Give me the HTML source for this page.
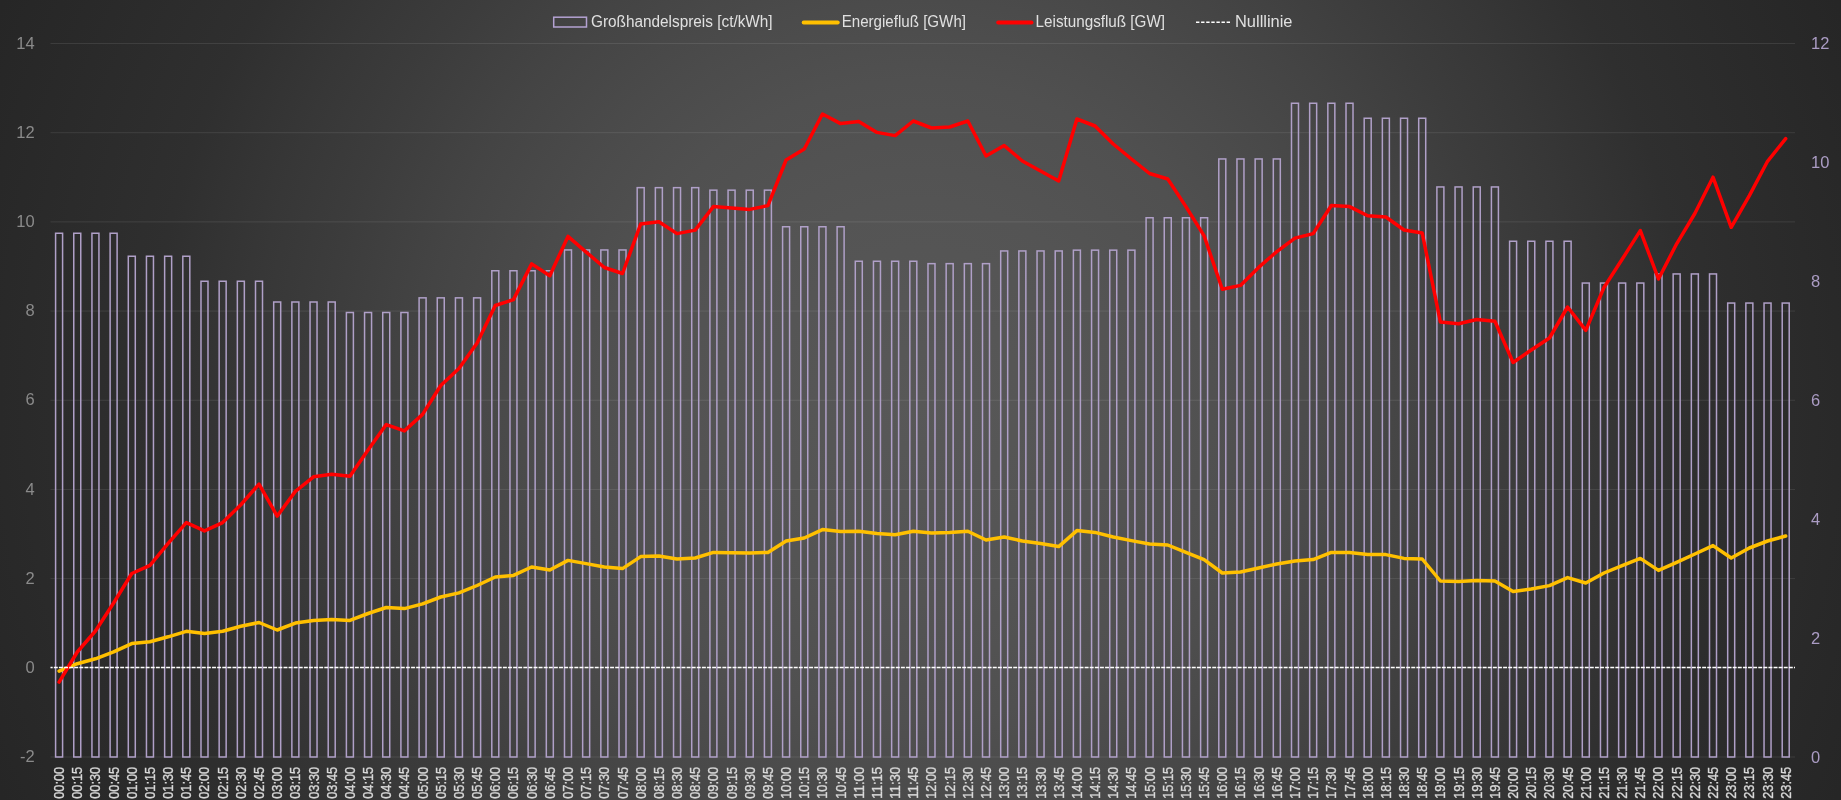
<!DOCTYPE html>
<html><head><meta charset="utf-8"><title>Chart</title>
<style>
html,body{margin:0;padding:0;background:#2a2a2a;}
body{width:1841px;height:800px;overflow:hidden;}
svg{display:block;will-change:transform;}
text{font-family:"Liberation Sans",sans-serif;}
</style></head><body>
<svg width="1841" height="800" viewBox="0 0 1841 800">
<defs>
<radialGradient id="bg" gradientUnits="userSpaceOnUse" cx="920" cy="400" r="1000">
<stop offset="0" stop-color="rgb(88,88,88)"/>
<stop offset="0.2" stop-color="rgb(84,84,84)"/>
<stop offset="0.32" stop-color="rgb(80,80,80)"/>
<stop offset="0.40" stop-color="rgb(75,75,75)"/>
<stop offset="0.50" stop-color="rgb(68,68,68)"/>
<stop offset="0.60" stop-color="rgb(60,60,60)"/>
<stop offset="0.67" stop-color="rgb(55,55,55)"/>
<stop offset="0.77" stop-color="rgb(47,47,47)"/>
<stop offset="0.92" stop-color="rgb(41,41,41)"/>
<stop offset="1" stop-color="rgb(38,38,38)"/>
</radialGradient>
</defs>
<rect x="0" y="0" width="1841" height="800" fill="url(#bg)"/>
<g stroke="#ffffff" stroke-opacity="0.095" stroke-width="1"><line x1="50.5" y1="43.50" x2="1795.0" y2="43.50"/><line x1="50.5" y1="132.69" x2="1795.0" y2="132.69"/><line x1="50.5" y1="221.88" x2="1795.0" y2="221.88"/><line x1="50.5" y1="311.06" x2="1795.0" y2="311.06"/><line x1="50.5" y1="400.25" x2="1795.0" y2="400.25"/><line x1="50.5" y1="489.44" x2="1795.0" y2="489.44"/><line x1="50.5" y1="578.62" x2="1795.0" y2="578.62"/><line x1="50.5" y1="667.81" x2="1795.0" y2="667.81"/><line x1="50.5" y1="757.00" x2="1795.0" y2="757.00"/></g>
<g fill="#8a8a8a" font-size="16.5" text-anchor="end"><text x="34.6" y="48.6">14</text><text x="34.6" y="137.8">12</text><text x="34.6" y="227.0">10</text><text x="34.6" y="316.2">8</text><text x="34.6" y="405.4">6</text><text x="34.6" y="494.5">4</text><text x="34.6" y="583.7">2</text><text x="34.6" y="672.9">0</text><text x="34.6" y="762.1">-2</text></g>
<g fill="#ab9cc4" font-size="16.5"><text x="1811" y="49.3">12</text><text x="1811" y="168.2">10</text><text x="1811" y="287.1">8</text><text x="1811" y="406.1">6</text><text x="1811" y="525.0">4</text><text x="1811" y="643.9">2</text><text x="1811" y="762.8">0</text></g>
<g fill="none" stroke="#b0a0c8" stroke-width="1.5"><rect x="55.59" y="233.25" width="7.0" height="523.75"/><rect x="73.76" y="233.25" width="7.0" height="523.75"/><rect x="91.94" y="233.25" width="7.0" height="523.75"/><rect x="110.11" y="233.25" width="7.0" height="523.75"/><rect x="128.29" y="256.25" width="7.0" height="500.75"/><rect x="146.46" y="256.25" width="7.0" height="500.75"/><rect x="164.64" y="256.25" width="7.0" height="500.75"/><rect x="182.81" y="256.25" width="7.0" height="500.75"/><rect x="200.99" y="281.25" width="7.0" height="475.75"/><rect x="219.16" y="281.25" width="7.0" height="475.75"/><rect x="237.34" y="281.25" width="7.0" height="475.75"/><rect x="255.51" y="281.25" width="7.0" height="475.75"/><rect x="273.69" y="302.00" width="7.0" height="455.00"/><rect x="291.86" y="302.00" width="7.0" height="455.00"/><rect x="310.04" y="302.00" width="7.0" height="455.00"/><rect x="328.21" y="302.00" width="7.0" height="455.00"/><rect x="346.39" y="312.50" width="7.0" height="444.50"/><rect x="364.56" y="312.50" width="7.0" height="444.50"/><rect x="382.74" y="312.50" width="7.0" height="444.50"/><rect x="400.91" y="312.50" width="7.0" height="444.50"/><rect x="419.09" y="297.85" width="7.0" height="459.15"/><rect x="437.26" y="297.85" width="7.0" height="459.15"/><rect x="455.44" y="297.85" width="7.0" height="459.15"/><rect x="473.61" y="297.85" width="7.0" height="459.15"/><rect x="491.79" y="270.75" width="7.0" height="486.25"/><rect x="509.96" y="270.75" width="7.0" height="486.25"/><rect x="528.14" y="270.75" width="7.0" height="486.25"/><rect x="546.31" y="270.75" width="7.0" height="486.25"/><rect x="564.49" y="249.95" width="7.0" height="507.05"/><rect x="582.66" y="249.95" width="7.0" height="507.05"/><rect x="600.84" y="249.95" width="7.0" height="507.05"/><rect x="619.01" y="249.95" width="7.0" height="507.05"/><rect x="637.19" y="187.65" width="7.0" height="569.35"/><rect x="655.36" y="187.65" width="7.0" height="569.35"/><rect x="673.54" y="187.65" width="7.0" height="569.35"/><rect x="691.71" y="187.65" width="7.0" height="569.35"/><rect x="709.89" y="190.15" width="7.0" height="566.85"/><rect x="728.06" y="190.15" width="7.0" height="566.85"/><rect x="746.24" y="190.15" width="7.0" height="566.85"/><rect x="764.41" y="190.15" width="7.0" height="566.85"/><rect x="782.59" y="226.75" width="7.0" height="530.25"/><rect x="800.76" y="226.75" width="7.0" height="530.25"/><rect x="818.94" y="226.75" width="7.0" height="530.25"/><rect x="837.11" y="226.75" width="7.0" height="530.25"/><rect x="855.29" y="261.25" width="7.0" height="495.75"/><rect x="873.46" y="261.25" width="7.0" height="495.75"/><rect x="891.64" y="261.25" width="7.0" height="495.75"/><rect x="909.81" y="261.25" width="7.0" height="495.75"/><rect x="927.99" y="263.65" width="7.0" height="493.35"/><rect x="946.16" y="263.65" width="7.0" height="493.35"/><rect x="964.34" y="263.65" width="7.0" height="493.35"/><rect x="982.51" y="263.65" width="7.0" height="493.35"/><rect x="1000.69" y="250.95" width="7.0" height="506.05"/><rect x="1018.86" y="250.95" width="7.0" height="506.05"/><rect x="1037.04" y="250.95" width="7.0" height="506.05"/><rect x="1055.21" y="250.95" width="7.0" height="506.05"/><rect x="1073.39" y="250.15" width="7.0" height="506.85"/><rect x="1091.56" y="250.15" width="7.0" height="506.85"/><rect x="1109.74" y="250.15" width="7.0" height="506.85"/><rect x="1127.91" y="250.15" width="7.0" height="506.85"/><rect x="1146.09" y="217.75" width="7.0" height="539.25"/><rect x="1164.26" y="217.75" width="7.0" height="539.25"/><rect x="1182.44" y="217.75" width="7.0" height="539.25"/><rect x="1200.61" y="217.75" width="7.0" height="539.25"/><rect x="1218.79" y="158.95" width="7.0" height="598.05"/><rect x="1236.96" y="158.95" width="7.0" height="598.05"/><rect x="1255.14" y="158.95" width="7.0" height="598.05"/><rect x="1273.31" y="158.95" width="7.0" height="598.05"/><rect x="1291.49" y="103.25" width="7.0" height="653.75"/><rect x="1309.66" y="103.25" width="7.0" height="653.75"/><rect x="1327.84" y="103.25" width="7.0" height="653.75"/><rect x="1346.01" y="103.25" width="7.0" height="653.75"/><rect x="1364.19" y="118.25" width="7.0" height="638.75"/><rect x="1382.36" y="118.25" width="7.0" height="638.75"/><rect x="1400.54" y="118.25" width="7.0" height="638.75"/><rect x="1418.71" y="118.25" width="7.0" height="638.75"/><rect x="1436.89" y="186.95" width="7.0" height="570.05"/><rect x="1455.06" y="186.95" width="7.0" height="570.05"/><rect x="1473.24" y="186.95" width="7.0" height="570.05"/><rect x="1491.41" y="186.95" width="7.0" height="570.05"/><rect x="1509.59" y="241.25" width="7.0" height="515.75"/><rect x="1527.76" y="241.25" width="7.0" height="515.75"/><rect x="1545.94" y="241.25" width="7.0" height="515.75"/><rect x="1564.11" y="241.25" width="7.0" height="515.75"/><rect x="1582.29" y="283.05" width="7.0" height="473.95"/><rect x="1600.46" y="283.05" width="7.0" height="473.95"/><rect x="1618.64" y="283.05" width="7.0" height="473.95"/><rect x="1636.81" y="283.05" width="7.0" height="473.95"/><rect x="1654.99" y="273.95" width="7.0" height="483.05"/><rect x="1673.16" y="273.95" width="7.0" height="483.05"/><rect x="1691.34" y="273.95" width="7.0" height="483.05"/><rect x="1709.51" y="273.95" width="7.0" height="483.05"/><rect x="1727.69" y="303.05" width="7.0" height="453.95"/><rect x="1745.86" y="303.05" width="7.0" height="453.95"/><rect x="1764.04" y="303.05" width="7.0" height="453.95"/><rect x="1782.21" y="303.05" width="7.0" height="453.95"/></g>
<polyline points="59.09,671.10 77.26,663.70 95.44,658.80 113.61,651.90 131.79,643.60 149.96,641.70 168.14,636.80 186.31,631.30 204.49,633.50 222.66,631.30 240.84,626.30 259.01,622.50 277.19,630.00 295.36,623.10 313.54,620.40 331.71,619.60 349.89,620.40 368.06,613.50 386.24,607.50 404.41,608.60 422.59,603.90 440.76,597.00 458.94,592.90 477.11,585.50 495.29,577.00 513.46,575.40 531.64,567.00 549.81,570.00 567.99,560.40 586.16,563.60 604.34,567.00 622.51,568.60 640.69,556.60 658.86,556.00 677.04,559.00 695.21,558.00 713.39,552.40 731.56,552.80 749.74,553.00 767.91,552.40 786.09,541.00 804.26,538.00 822.44,529.60 840.61,531.60 858.79,531.20 876.96,533.40 895.14,534.80 913.31,531.20 931.49,533.00 949.66,532.40 967.84,531.20 986.01,540.00 1004.19,537.00 1022.36,541.00 1040.54,543.60 1058.71,546.60 1076.89,530.60 1095.06,532.40 1113.24,537.00 1131.41,540.60 1149.59,544.00 1167.76,545.00 1185.94,552.40 1204.11,559.60 1222.29,573.00 1240.46,572.00 1258.64,568.00 1276.81,564.00 1294.99,561.00 1313.16,559.60 1331.34,552.40 1349.51,552.40 1367.69,554.40 1385.86,554.60 1404.04,558.40 1422.21,559.00 1440.39,581.00 1458.56,581.60 1476.74,580.60 1494.91,581.00 1513.09,591.60 1531.26,589.00 1549.44,585.60 1567.61,577.60 1585.79,583.00 1603.96,573.00 1622.14,565.60 1640.31,558.40 1658.49,570.40 1676.66,562.40 1694.84,554.00 1713.01,545.60 1731.19,558.00 1749.36,548.00 1767.54,541.00 1785.71,536.00" fill="none" stroke="#ffc000" stroke-width="3.5" stroke-linejoin="round" stroke-linecap="round"/>
<polyline points="59.09,682.10 77.26,652.00 95.44,631.00 113.61,603.00 131.79,573.50 149.96,565.30 168.14,543.30 186.31,522.60 204.49,530.90 222.66,522.60 240.84,504.75 259.01,484.10 277.19,516.10 295.36,491.40 313.54,476.80 331.71,474.30 349.89,476.30 368.06,450.10 386.24,424.60 404.41,430.90 422.59,414.40 440.76,385.50 458.94,368.40 477.11,343.00 495.29,305.50 513.46,299.60 531.64,263.90 549.81,275.70 567.99,236.40 586.16,252.10 604.34,267.50 622.51,273.50 640.69,224.00 658.86,221.80 677.04,233.60 695.21,230.10 713.39,206.60 731.56,208.00 749.74,209.40 767.91,205.60 786.09,160.00 804.26,149.00 822.44,114.00 840.61,123.60 858.79,121.60 876.96,132.40 895.14,135.60 913.31,121.00 931.49,128.00 949.66,127.00 967.84,121.00 986.01,156.00 1004.19,145.60 1022.36,161.00 1040.54,171.00 1058.71,181.00 1076.89,119.00 1095.06,126.00 1113.24,144.00 1131.41,159.00 1149.59,173.50 1167.76,179.00 1185.94,206.60 1204.11,235.90 1222.29,289.20 1240.46,285.40 1258.64,267.40 1276.81,251.60 1294.99,238.10 1313.16,233.60 1331.34,205.50 1349.51,206.60 1367.69,215.75 1385.86,217.00 1404.04,230.00 1422.21,233.00 1440.39,322.00 1458.56,323.75 1476.74,319.50 1494.91,321.25 1513.09,362.50 1531.26,350.00 1549.44,338.00 1567.61,307.00 1585.79,330.40 1603.96,287.50 1622.14,259.30 1640.31,230.60 1658.49,279.00 1676.66,243.80 1694.84,213.50 1713.01,177.20 1731.19,227.30 1749.36,195.60 1767.54,161.30 1785.71,138.70" fill="none" stroke="#ff0000" stroke-width="3.5" stroke-linejoin="round" stroke-linecap="round"/>
<line x1="50.5" y1="667.5" x2="1795.0" y2="667.5" stroke="#ffffff" stroke-width="1.3" stroke-dasharray="3.9 1.203" stroke-dashoffset="1.743"/>
<g fill="#d9d9d9" stroke="#d9d9d9" stroke-width="0.35" font-size="14"><text transform="translate(64.09 766.8) rotate(-90)" text-anchor="end" textLength="32" lengthAdjust="spacingAndGlyphs">00:00</text><text transform="translate(82.26 766.8) rotate(-90)" text-anchor="end" textLength="32" lengthAdjust="spacingAndGlyphs">00:15</text><text transform="translate(100.44 766.8) rotate(-90)" text-anchor="end" textLength="32" lengthAdjust="spacingAndGlyphs">00:30</text><text transform="translate(118.61 766.8) rotate(-90)" text-anchor="end" textLength="32" lengthAdjust="spacingAndGlyphs">00:45</text><text transform="translate(136.79 766.8) rotate(-90)" text-anchor="end" textLength="32" lengthAdjust="spacingAndGlyphs">01:00</text><text transform="translate(154.96 766.8) rotate(-90)" text-anchor="end" textLength="32" lengthAdjust="spacingAndGlyphs">01:15</text><text transform="translate(173.14 766.8) rotate(-90)" text-anchor="end" textLength="32" lengthAdjust="spacingAndGlyphs">01:30</text><text transform="translate(191.31 766.8) rotate(-90)" text-anchor="end" textLength="32" lengthAdjust="spacingAndGlyphs">01:45</text><text transform="translate(209.49 766.8) rotate(-90)" text-anchor="end" textLength="32" lengthAdjust="spacingAndGlyphs">02:00</text><text transform="translate(227.66 766.8) rotate(-90)" text-anchor="end" textLength="32" lengthAdjust="spacingAndGlyphs">02:15</text><text transform="translate(245.84 766.8) rotate(-90)" text-anchor="end" textLength="32" lengthAdjust="spacingAndGlyphs">02:30</text><text transform="translate(264.01 766.8) rotate(-90)" text-anchor="end" textLength="32" lengthAdjust="spacingAndGlyphs">02:45</text><text transform="translate(282.19 766.8) rotate(-90)" text-anchor="end" textLength="32" lengthAdjust="spacingAndGlyphs">03:00</text><text transform="translate(300.36 766.8) rotate(-90)" text-anchor="end" textLength="32" lengthAdjust="spacingAndGlyphs">03:15</text><text transform="translate(318.54 766.8) rotate(-90)" text-anchor="end" textLength="32" lengthAdjust="spacingAndGlyphs">03:30</text><text transform="translate(336.71 766.8) rotate(-90)" text-anchor="end" textLength="32" lengthAdjust="spacingAndGlyphs">03:45</text><text transform="translate(354.89 766.8) rotate(-90)" text-anchor="end" textLength="32" lengthAdjust="spacingAndGlyphs">04:00</text><text transform="translate(373.06 766.8) rotate(-90)" text-anchor="end" textLength="32" lengthAdjust="spacingAndGlyphs">04:15</text><text transform="translate(391.24 766.8) rotate(-90)" text-anchor="end" textLength="32" lengthAdjust="spacingAndGlyphs">04:30</text><text transform="translate(409.41 766.8) rotate(-90)" text-anchor="end" textLength="32" lengthAdjust="spacingAndGlyphs">04:45</text><text transform="translate(427.59 766.8) rotate(-90)" text-anchor="end" textLength="32" lengthAdjust="spacingAndGlyphs">05:00</text><text transform="translate(445.76 766.8) rotate(-90)" text-anchor="end" textLength="32" lengthAdjust="spacingAndGlyphs">05:15</text><text transform="translate(463.94 766.8) rotate(-90)" text-anchor="end" textLength="32" lengthAdjust="spacingAndGlyphs">05:30</text><text transform="translate(482.11 766.8) rotate(-90)" text-anchor="end" textLength="32" lengthAdjust="spacingAndGlyphs">05:45</text><text transform="translate(500.29 766.8) rotate(-90)" text-anchor="end" textLength="32" lengthAdjust="spacingAndGlyphs">06:00</text><text transform="translate(518.46 766.8) rotate(-90)" text-anchor="end" textLength="32" lengthAdjust="spacingAndGlyphs">06:15</text><text transform="translate(536.64 766.8) rotate(-90)" text-anchor="end" textLength="32" lengthAdjust="spacingAndGlyphs">06:30</text><text transform="translate(554.81 766.8) rotate(-90)" text-anchor="end" textLength="32" lengthAdjust="spacingAndGlyphs">06:45</text><text transform="translate(572.99 766.8) rotate(-90)" text-anchor="end" textLength="32" lengthAdjust="spacingAndGlyphs">07:00</text><text transform="translate(591.16 766.8) rotate(-90)" text-anchor="end" textLength="32" lengthAdjust="spacingAndGlyphs">07:15</text><text transform="translate(609.34 766.8) rotate(-90)" text-anchor="end" textLength="32" lengthAdjust="spacingAndGlyphs">07:30</text><text transform="translate(627.51 766.8) rotate(-90)" text-anchor="end" textLength="32" lengthAdjust="spacingAndGlyphs">07:45</text><text transform="translate(645.69 766.8) rotate(-90)" text-anchor="end" textLength="32" lengthAdjust="spacingAndGlyphs">08:00</text><text transform="translate(663.86 766.8) rotate(-90)" text-anchor="end" textLength="32" lengthAdjust="spacingAndGlyphs">08:15</text><text transform="translate(682.04 766.8) rotate(-90)" text-anchor="end" textLength="32" lengthAdjust="spacingAndGlyphs">08:30</text><text transform="translate(700.21 766.8) rotate(-90)" text-anchor="end" textLength="32" lengthAdjust="spacingAndGlyphs">08:45</text><text transform="translate(718.39 766.8) rotate(-90)" text-anchor="end" textLength="32" lengthAdjust="spacingAndGlyphs">09:00</text><text transform="translate(736.56 766.8) rotate(-90)" text-anchor="end" textLength="32" lengthAdjust="spacingAndGlyphs">09:15</text><text transform="translate(754.74 766.8) rotate(-90)" text-anchor="end" textLength="32" lengthAdjust="spacingAndGlyphs">09:30</text><text transform="translate(772.91 766.8) rotate(-90)" text-anchor="end" textLength="32" lengthAdjust="spacingAndGlyphs">09:45</text><text transform="translate(791.09 766.8) rotate(-90)" text-anchor="end" textLength="32" lengthAdjust="spacingAndGlyphs">10:00</text><text transform="translate(809.26 766.8) rotate(-90)" text-anchor="end" textLength="32" lengthAdjust="spacingAndGlyphs">10:15</text><text transform="translate(827.44 766.8) rotate(-90)" text-anchor="end" textLength="32" lengthAdjust="spacingAndGlyphs">10:30</text><text transform="translate(845.61 766.8) rotate(-90)" text-anchor="end" textLength="32" lengthAdjust="spacingAndGlyphs">10:45</text><text transform="translate(863.79 766.8) rotate(-90)" text-anchor="end" textLength="32" lengthAdjust="spacingAndGlyphs">11:00</text><text transform="translate(881.96 766.8) rotate(-90)" text-anchor="end" textLength="32" lengthAdjust="spacingAndGlyphs">11:15</text><text transform="translate(900.14 766.8) rotate(-90)" text-anchor="end" textLength="32" lengthAdjust="spacingAndGlyphs">11:30</text><text transform="translate(918.31 766.8) rotate(-90)" text-anchor="end" textLength="32" lengthAdjust="spacingAndGlyphs">11:45</text><text transform="translate(936.49 766.8) rotate(-90)" text-anchor="end" textLength="32" lengthAdjust="spacingAndGlyphs">12:00</text><text transform="translate(954.66 766.8) rotate(-90)" text-anchor="end" textLength="32" lengthAdjust="spacingAndGlyphs">12:15</text><text transform="translate(972.84 766.8) rotate(-90)" text-anchor="end" textLength="32" lengthAdjust="spacingAndGlyphs">12:30</text><text transform="translate(991.01 766.8) rotate(-90)" text-anchor="end" textLength="32" lengthAdjust="spacingAndGlyphs">12:45</text><text transform="translate(1009.19 766.8) rotate(-90)" text-anchor="end" textLength="32" lengthAdjust="spacingAndGlyphs">13:00</text><text transform="translate(1027.36 766.8) rotate(-90)" text-anchor="end" textLength="32" lengthAdjust="spacingAndGlyphs">13:15</text><text transform="translate(1045.54 766.8) rotate(-90)" text-anchor="end" textLength="32" lengthAdjust="spacingAndGlyphs">13:30</text><text transform="translate(1063.71 766.8) rotate(-90)" text-anchor="end" textLength="32" lengthAdjust="spacingAndGlyphs">13:45</text><text transform="translate(1081.89 766.8) rotate(-90)" text-anchor="end" textLength="32" lengthAdjust="spacingAndGlyphs">14:00</text><text transform="translate(1100.06 766.8) rotate(-90)" text-anchor="end" textLength="32" lengthAdjust="spacingAndGlyphs">14:15</text><text transform="translate(1118.24 766.8) rotate(-90)" text-anchor="end" textLength="32" lengthAdjust="spacingAndGlyphs">14:30</text><text transform="translate(1136.41 766.8) rotate(-90)" text-anchor="end" textLength="32" lengthAdjust="spacingAndGlyphs">14:45</text><text transform="translate(1154.59 766.8) rotate(-90)" text-anchor="end" textLength="32" lengthAdjust="spacingAndGlyphs">15:00</text><text transform="translate(1172.76 766.8) rotate(-90)" text-anchor="end" textLength="32" lengthAdjust="spacingAndGlyphs">15:15</text><text transform="translate(1190.94 766.8) rotate(-90)" text-anchor="end" textLength="32" lengthAdjust="spacingAndGlyphs">15:30</text><text transform="translate(1209.11 766.8) rotate(-90)" text-anchor="end" textLength="32" lengthAdjust="spacingAndGlyphs">15:45</text><text transform="translate(1227.29 766.8) rotate(-90)" text-anchor="end" textLength="32" lengthAdjust="spacingAndGlyphs">16:00</text><text transform="translate(1245.46 766.8) rotate(-90)" text-anchor="end" textLength="32" lengthAdjust="spacingAndGlyphs">16:15</text><text transform="translate(1263.64 766.8) rotate(-90)" text-anchor="end" textLength="32" lengthAdjust="spacingAndGlyphs">16:30</text><text transform="translate(1281.81 766.8) rotate(-90)" text-anchor="end" textLength="32" lengthAdjust="spacingAndGlyphs">16:45</text><text transform="translate(1299.99 766.8) rotate(-90)" text-anchor="end" textLength="32" lengthAdjust="spacingAndGlyphs">17:00</text><text transform="translate(1318.16 766.8) rotate(-90)" text-anchor="end" textLength="32" lengthAdjust="spacingAndGlyphs">17:15</text><text transform="translate(1336.34 766.8) rotate(-90)" text-anchor="end" textLength="32" lengthAdjust="spacingAndGlyphs">17:30</text><text transform="translate(1354.51 766.8) rotate(-90)" text-anchor="end" textLength="32" lengthAdjust="spacingAndGlyphs">17:45</text><text transform="translate(1372.69 766.8) rotate(-90)" text-anchor="end" textLength="32" lengthAdjust="spacingAndGlyphs">18:00</text><text transform="translate(1390.86 766.8) rotate(-90)" text-anchor="end" textLength="32" lengthAdjust="spacingAndGlyphs">18:15</text><text transform="translate(1409.04 766.8) rotate(-90)" text-anchor="end" textLength="32" lengthAdjust="spacingAndGlyphs">18:30</text><text transform="translate(1427.21 766.8) rotate(-90)" text-anchor="end" textLength="32" lengthAdjust="spacingAndGlyphs">18:45</text><text transform="translate(1445.39 766.8) rotate(-90)" text-anchor="end" textLength="32" lengthAdjust="spacingAndGlyphs">19:00</text><text transform="translate(1463.56 766.8) rotate(-90)" text-anchor="end" textLength="32" lengthAdjust="spacingAndGlyphs">19:15</text><text transform="translate(1481.74 766.8) rotate(-90)" text-anchor="end" textLength="32" lengthAdjust="spacingAndGlyphs">19:30</text><text transform="translate(1499.91 766.8) rotate(-90)" text-anchor="end" textLength="32" lengthAdjust="spacingAndGlyphs">19:45</text><text transform="translate(1518.09 766.8) rotate(-90)" text-anchor="end" textLength="32" lengthAdjust="spacingAndGlyphs">20:00</text><text transform="translate(1536.26 766.8) rotate(-90)" text-anchor="end" textLength="32" lengthAdjust="spacingAndGlyphs">20:15</text><text transform="translate(1554.44 766.8) rotate(-90)" text-anchor="end" textLength="32" lengthAdjust="spacingAndGlyphs">20:30</text><text transform="translate(1572.61 766.8) rotate(-90)" text-anchor="end" textLength="32" lengthAdjust="spacingAndGlyphs">20:45</text><text transform="translate(1590.79 766.8) rotate(-90)" text-anchor="end" textLength="32" lengthAdjust="spacingAndGlyphs">21:00</text><text transform="translate(1608.96 766.8) rotate(-90)" text-anchor="end" textLength="32" lengthAdjust="spacingAndGlyphs">21:15</text><text transform="translate(1627.14 766.8) rotate(-90)" text-anchor="end" textLength="32" lengthAdjust="spacingAndGlyphs">21:30</text><text transform="translate(1645.31 766.8) rotate(-90)" text-anchor="end" textLength="32" lengthAdjust="spacingAndGlyphs">21:45</text><text transform="translate(1663.49 766.8) rotate(-90)" text-anchor="end" textLength="32" lengthAdjust="spacingAndGlyphs">22:00</text><text transform="translate(1681.66 766.8) rotate(-90)" text-anchor="end" textLength="32" lengthAdjust="spacingAndGlyphs">22:15</text><text transform="translate(1699.84 766.8) rotate(-90)" text-anchor="end" textLength="32" lengthAdjust="spacingAndGlyphs">22:30</text><text transform="translate(1718.01 766.8) rotate(-90)" text-anchor="end" textLength="32" lengthAdjust="spacingAndGlyphs">22:45</text><text transform="translate(1736.19 766.8) rotate(-90)" text-anchor="end" textLength="32" lengthAdjust="spacingAndGlyphs">23:00</text><text transform="translate(1754.36 766.8) rotate(-90)" text-anchor="end" textLength="32" lengthAdjust="spacingAndGlyphs">23:15</text><text transform="translate(1772.54 766.8) rotate(-90)" text-anchor="end" textLength="32" lengthAdjust="spacingAndGlyphs">23:30</text><text transform="translate(1790.71 766.8) rotate(-90)" text-anchor="end" textLength="32" lengthAdjust="spacingAndGlyphs">23:45</text></g>
<g font-size="16" fill="#e0e0e0">
<rect x="553.7" y="17.2" width="32.8" height="9.8" fill="none" stroke="#b4a2d2" stroke-width="1.5"/>
<text x="591" y="27.3" textLength="181.6" lengthAdjust="spacingAndGlyphs">Großhandelspreis [ct/kWh]</text>
<line x1="803.7" y1="22.4" x2="837.7" y2="22.4" stroke="#ffc000" stroke-width="4" stroke-linecap="round"/>
<text x="841.7" y="27.3" textLength="124.3" lengthAdjust="spacingAndGlyphs">Energiefluß [GWh]</text>
<line x1="998.2" y1="22.4" x2="1031.5" y2="22.4" stroke="#ff0000" stroke-width="4" stroke-linecap="round"/>
<text x="1035.6" y="27.3" textLength="129.4" lengthAdjust="spacingAndGlyphs">Leistungsfluß [GW]</text>
<line x1="1196" y1="22.3" x2="1231.5" y2="22.3" stroke="#ffffff" stroke-width="1.6" stroke-dasharray="3.4 1.7"/>
<text x="1235" y="27.3" textLength="57.5" lengthAdjust="spacingAndGlyphs">Nulllinie</text>
</g>
</svg>
</body></html>
